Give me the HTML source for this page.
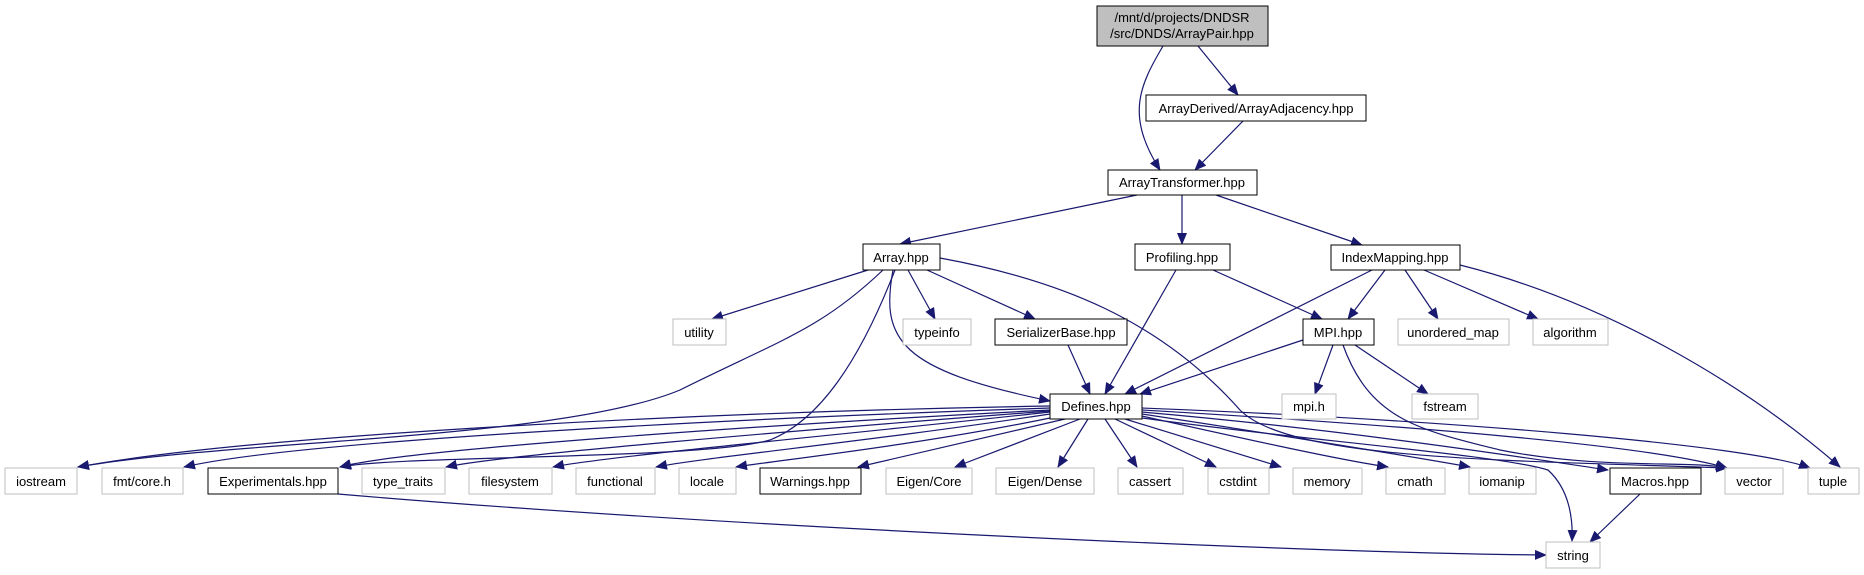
<!DOCTYPE html>
<html><head><meta charset="utf-8"><style>
html,body{margin:0;padding:0;background:#fff;}
svg{display:block;}
text{font-family:"Liberation Sans",Arial,sans-serif;font-size:13px;fill:#000;}
</style></head><body>
<svg width="1864" height="575" viewBox="0 0 1864 575" xmlns="http://www.w3.org/2000/svg">
<defs>
<marker id="a" markerWidth="12" markerHeight="10" refX="11" refY="5" orient="auto" markerUnits="userSpaceOnUse">
<polygon points="0,0 12,5 0,10" fill="#191970"/>
</marker>
</defs>
<g fill="none" stroke="#191970" stroke-width="1.2" marker-end="url(#a)">
<path d="M1198,46 L1238,95"/>
<path d="M1163,46 C1140,85 1125,115 1160,170"/>
<path d="M1243,121 L1195,170"/>
<path d="M1137,195 L900,244"/>
<path d="M1182,195 L1182,244"/>
<path d="M1216,195 L1362,245"/>
<path d="M868,270 L712,319"/>
<path d="M908,270 L935,319"/>
<path d="M927,270 L1035,319"/>
<path d="M883,270 C820,330 780,340 680,390 C560,440 230,440 78,467"/>
<path d="M895,270 C860,360 820,420 770,440 C700,460 400,455 340,467"/>
<path d="M893,270 C880,340 900,370 1050,401"/>
<path d="M940,258 C1060,280 1160,320 1240,410 C1290,460 1500,460 1727,468"/>
<path d="M1176,270 L1105,394"/>
<path d="M1213,270 L1322,319"/>
<path d="M1372,270 L1125,394"/>
<path d="M1385,270 L1348,319"/>
<path d="M1405,270 L1438,319"/>
<path d="M1424,270 L1538,319"/>
<path d="M1460,265 C1600,300 1740,380 1840,467"/>
<path d="M1068,345 L1090,394"/>
<path d="M1303,340 L1140,394"/>
<path d="M1333,345 L1315,394"/>
<path d="M1355,345 L1428,394"/>
<path d="M1343,345 C1370,420 1420,430 1500,450 C1600,470 1690,460 1727,468"/>
<!-- Defines fan -->
<path d="M1050,406 C700,412 250,435 78,467"/>
<path d="M1050,408 C750,418 300,440 184,467"/>
<path d="M1050,410 C760,425 400,450 340,467"/>
<path d="M1050,411 C800,430 500,455 446,467"/>
<path d="M1050,412 C840,435 600,457 553,467"/>
<path d="M1050,414 C880,440 700,458 656,467"/>
<path d="M1055,417 C920,445 780,460 736,467"/>
<path d="M1065,419 L858,467"/>
<path d="M1080,419 L955,467"/>
<path d="M1088,419 L1058,467"/>
<path d="M1105,419 L1137,467"/>
<path d="M1115,419 L1216,467"/>
<path d="M1125,419 L1281,467"/>
<path d="M1142,416 C1250,440 1340,460 1388,467"/>
<path d="M1142,414 C1280,435 1420,458 1470,467"/>
<path d="M1142,412 C1350,430 1540,460 1608,470"/>
<path d="M1142,410 C1400,425 1650,445 1727,468"/>
<path d="M1142,408 C1450,420 1750,445 1810,468"/>
<path d="M1142,418 C1300,440 1500,455 1548,470 C1570,490 1573,520 1572,541"/>
<path d="M338,494 C700,525 1300,553 1546,555"/>
<path d="M1640,494 L1590,542"/>
</g>
<g stroke-width="1" fill="#fff">
<rect x="1097" y="6" width="171" height="40" fill="#bfbfbf" stroke="#000"/>
<rect x="1146" y="95" width="220" height="26" stroke="#000"/>
<rect x="1108" y="170" width="149" height="25" stroke="#000"/>
<rect x="863" y="244" width="77" height="26" stroke="#000"/>
<rect x="1135" y="244" width="95" height="26" stroke="#000"/>
<rect x="1331" y="245" width="129" height="25" stroke="#000"/>
<rect x="673" y="319" width="53" height="26" stroke="#bfbfbf"/>
<rect x="903" y="319" width="68" height="26" stroke="#bfbfbf"/>
<rect x="995" y="319" width="132" height="26" stroke="#000"/>
<rect x="1303" y="319" width="71" height="26" stroke="#000"/>
<rect x="1398" y="319" width="111" height="26" stroke="#bfbfbf"/>
<rect x="1533" y="319" width="75" height="26" stroke="#bfbfbf"/>
<rect x="1050" y="394" width="92" height="25" stroke="#000"/>
<rect x="1282" y="394" width="54" height="25" stroke="#bfbfbf"/>
<rect x="1412" y="394" width="66" height="25" stroke="#bfbfbf"/>
<rect x="5" y="468" width="72" height="26" stroke="#bfbfbf"/>
<rect x="102" y="468" width="81" height="26" stroke="#bfbfbf"/>
<rect x="208" y="468" width="130" height="26" stroke="#000"/>
<rect x="362" y="468" width="83" height="26" stroke="#bfbfbf"/>
<rect x="469" y="468" width="83" height="26" stroke="#bfbfbf"/>
<rect x="576" y="468" width="79" height="26" stroke="#bfbfbf"/>
<rect x="679" y="468" width="57" height="26" stroke="#bfbfbf"/>
<rect x="760" y="468" width="101" height="26" stroke="#000"/>
<rect x="886" y="468" width="86" height="26" stroke="#bfbfbf"/>
<rect x="996" y="468" width="98" height="26" stroke="#bfbfbf"/>
<rect x="1118" y="468" width="65" height="26" stroke="#bfbfbf"/>
<rect x="1208" y="468" width="61" height="26" stroke="#bfbfbf"/>
<rect x="1293" y="468" width="69" height="26" stroke="#bfbfbf"/>
<rect x="1386" y="468" width="59" height="26" stroke="#bfbfbf"/>
<rect x="1469" y="468" width="67" height="26" stroke="#bfbfbf"/>
<rect x="1610" y="468" width="91" height="26" stroke="#000"/>
<rect x="1725" y="468" width="58" height="26" stroke="#bfbfbf"/>
<rect x="1808" y="468" width="51" height="26" stroke="#bfbfbf"/>
<rect x="1546" y="542" width="54" height="26" stroke="#bfbfbf"/>
</g>
<g text-anchor="middle">
<text x="1182" y="22">/mnt/d/projects/DNDSR</text>
<text x="1182" y="38">/src/DNDS/ArrayPair.hpp</text>
<text x="1256" y="113">ArrayDerived/ArrayAdjacency.hpp</text>
<text x="1182" y="187">ArrayTransformer.hpp</text>
<text x="901" y="262">Array.hpp</text>
<text x="1182" y="262">Profiling.hpp</text>
<text x="1395" y="262">IndexMapping.hpp</text>
<text x="699" y="337">utility</text>
<text x="937" y="337">typeinfo</text>
<text x="1061" y="337">SerializerBase.hpp</text>
<text x="1338" y="337">MPI.hpp</text>
<text x="1453" y="337">unordered_map</text>
<text x="1570" y="337">algorithm</text>
<text x="1096" y="411">Defines.hpp</text>
<text x="1309" y="411">mpi.h</text>
<text x="1445" y="411">fstream</text>
<text x="41" y="486">iostream</text>
<text x="142" y="486">fmt/core.h</text>
<text x="273" y="486">Experimentals.hpp</text>
<text x="403" y="486">type_traits</text>
<text x="510" y="486">filesystem</text>
<text x="615" y="486">functional</text>
<text x="707" y="486">locale</text>
<text x="810" y="486">Warnings.hpp</text>
<text x="929" y="486">Eigen/Core</text>
<text x="1045" y="486">Eigen/Dense</text>
<text x="1150" y="486">cassert</text>
<text x="1238" y="486">cstdint</text>
<text x="1327" y="486">memory</text>
<text x="1415" y="486">cmath</text>
<text x="1502" y="486">iomanip</text>
<text x="1655" y="486">Macros.hpp</text>
<text x="1754" y="486">vector</text>
<text x="1833" y="486">tuple</text>
<text x="1573" y="560">string</text>
</g>
</svg>
</body></html>
